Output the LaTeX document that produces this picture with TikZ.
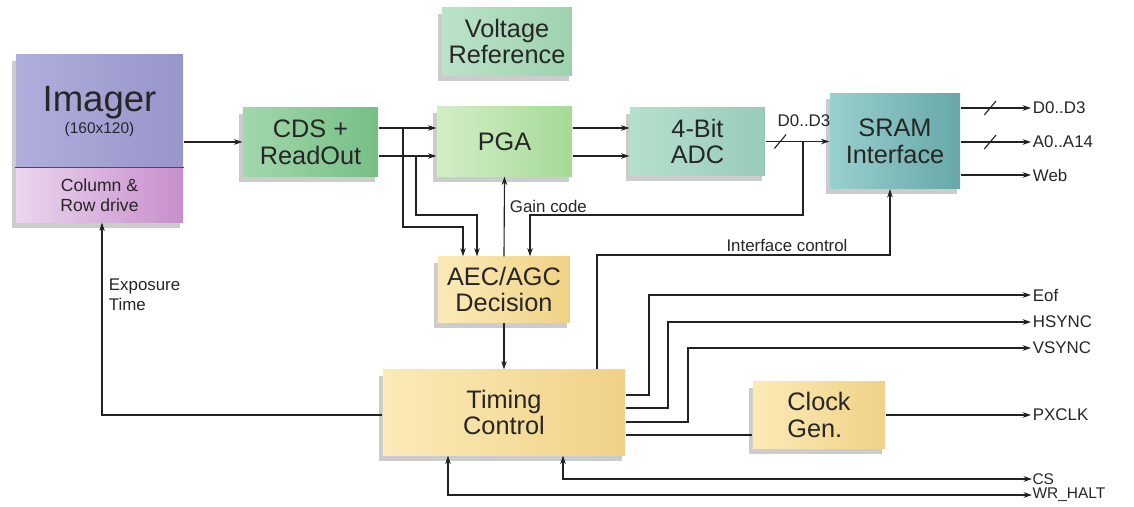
\documentclass[tikz,border=0pt]{standalone}
\usepackage{fontspec}
\setmainfont{Liberation Sans}
\usetikzlibrary{arrows.meta,shadows,calc}

\definecolor{imgL}{HTML}{B0AEDC}
\definecolor{imgR}{HTML}{9896CA}
\definecolor{rowL}{HTML}{EAD6EE}
\definecolor{rowR}{HTML}{C88ECC}
\definecolor{cdsL}{HTML}{A2D8AC}
\definecolor{cdsR}{HTML}{76BE86}
\definecolor{pgaL}{HTML}{D4EEC6}
\definecolor{pgaR}{HTML}{A6DA98}
\definecolor{adcL}{HTML}{B6E0CE}
\definecolor{adcR}{HTML}{98CCB8}
\definecolor{sramL}{HTML}{98D0CE}
\definecolor{sramR}{HTML}{68A8A8}
\definecolor{vrefL}{HTML}{BCE2C8}
\definecolor{vrefR}{HTML}{9ED2AE}
\definecolor{ylwL}{HTML}{FBEAB8}
\definecolor{ylwR}{HTML}{F0D286}
\definecolor{wire}{HTML}{222222}

\begin{document}
\begin{tikzpicture}[x=0.025cm, y=-0.025cm,
    >={Stealth[length=6pt,width=4pt]},
    line width=0.8pt, draw=wire,
    blk/.style={inner sep=1pt, align=center, text=black!85,
        font=\fontsize{18}{19}\selectfont,
        drop shadow={shadow xshift=-2.5pt, shadow yshift=-4pt, opacity=0.4}},
    grn/.style={blk, left color=cdsL, right color=cdsR},
    ylw/.style={blk, left color=ylwL, right color=ylwR},
    lbl/.style={inner sep=1pt, font=\fontsize{12}{14}\selectfont, text=black!85},
    slash/.style={draw, inner sep=0pt, minimum width=13pt, minimum height=0pt, rotate=50}
]
\useasboundingbox (0,0) rectangle (1134,507);

% blocks
\node[blk, left color=imgL, right color=imgR, minimum width=4.175cm, minimum height=2.825cm]
    (imager) at (99.5,111.5) {\fontsize{26}{27}\selectfont Imager\\[-3pt]\fontsize{11}{12}\selectfont(160x120)};
\node[blk, left color=rowL, right color=rowR, minimum width=4.175cm, minimum height=1.35cm,
    font=\fontsize{12.5}{14}\selectfont] (rowdrv) at (99.5,195) {Column \&\\Row drive};
\draw[black!70] (rowdrv.north west) -- (rowdrv.north east);

\node[grn, minimum width=3.375cm, minimum height=1.7cm] (cds) at (310.5,142) {CDS +\\ReadOut};
\node[blk, left color=pgaL, right color=pgaR, minimum width=3.375cm, minimum height=1.725cm]
    (pga) at (504.5,141.5) {PGA};
\node[blk, left color=adcL, right color=adcR, minimum width=3.375cm, minimum height=1.675cm]
    (adc) at (697.5,141.5) {4-Bit\\ADC};
\node[blk, left color=sramL, right color=sramR, minimum width=3.25cm, minimum height=2.375cm]
    (sram) at (895,141) {SRAM\\Interface};
\node[blk, left color=vrefL, right color=vrefR, minimum width=3.25cm, minimum height=1.675cm]
    (vref) at (507,41.5) {Voltage\\Reference};
\node[ylw, minimum width=3.3cm, minimum height=1.625cm] (aec) at (504,289.5) {AEC/AGC\\Decision};
\node[ylw, minimum width=6.05cm, minimum height=2.125cm] (timing) at (504,412.5) {Timing\\Control};
\node[ylw, minimum width=3.3cm, minimum height=1.65cm, align=left] (clock) at (819,415) {Clock\\Gen.};

% labels
\node[lbl] (dbus) at (804,121) {D0..D3};
\node[lbl, anchor=west] (gain) at (508,206) {Gain code};
\node[lbl] (ifc) at (787,245) {Interface control};
\node[lbl, anchor=north west, align=left] (expo) at (107,277) {Exposure\\Time};
\node[lbl, anchor=west] (dout) at (1031,108) {D0..D3};
\node[lbl, anchor=west] (aout) at (1031,142) {A0..A14};
\node[lbl, anchor=west] (web) at (1031,175) {Web};
\node[lbl, anchor=west] (eof) at (1031,295) {Eof};
\node[lbl, anchor=west] (hsync) at (1031,322) {HSYNC};
\node[lbl, anchor=west] (vsync) at (1031,348) {VSYNC};
\node[lbl, anchor=west] (pxclk) at (1031,415) {PXCLK};
\node[lbl, anchor=west, inner sep=0pt, font=\fontsize{11}{12}\selectfont] (cs) at (1032,479) {CS};
\node[lbl, anchor=west, inner sep=0pt, font=\fontsize{11}{12}\selectfont] (wr) at (1032,495) {WR\_HALT};

% junctions
\coordinate (j1) at (403,128);
\coordinate (j2) at (416,156);
\coordinate (j3) at (803,142);

% signal path
\draw[->] (imager.east |- cds) -- (cds.west);
\draw[->] (cds.east |- j1) -- (pga.west |- j1);
\draw[->] (cds.east |- j2) -- (pga.west |- j2);
\draw[->] (pga.east |- j1) -- (adc.west |- j1);
\draw[->] (pga.east |- j2) -- (adc.west |- j2);
\draw[->] (adc.east) -- node[slash, pos=.23] {} (sram.west |- adc.east);

% AEC/AGC loop
\draw[->] (j1) |- (463,227) -- (aec.north -| 463,0);
\draw[->] (j2) |- (477,215) -- (aec.north -| 477,0);
\draw[->] (j3) |- (530,215) -- (aec.north -| 530,0);
\draw[->] (aec.north) -- (pga.south);
\draw[->] (aec.south) -- (timing.north);
\draw[->] (timing.north -| 597,0) |- (890,255) -- (sram.south -| 890,0);
\draw[->] (timing.west |- 0,415) -| (rowdrv.south -| 102,0);

% outputs
\draw[->] (sram.east |- dout) -- node[slash, pos=.42] {} (dout.west);
\draw[->] (sram.east |- aout) -- node[slash, pos=.42] {} (aout.west);
\draw[->] (sram.east |- web) -- (web.west);
\draw[->] (timing.east |- 0,395) -| (649,295) -- (eof.west);
\draw[->] (timing.east |- 0,408) -| (668,322) -- (hsync.west);
\draw[->] (timing.east |- 0,422) -| (688,348) -- (vsync.west);
\draw (timing.east |- 0,435) -- (clock.west |- 0,435);
\draw[->] (clock.east) -- (pxclk.west);
\draw[<->] (timing.south -| 563,0) |- (cs.west);
\draw[<->] (timing.south -| 448,0) |- (wr.west);

\end{tikzpicture}
\end{document}
